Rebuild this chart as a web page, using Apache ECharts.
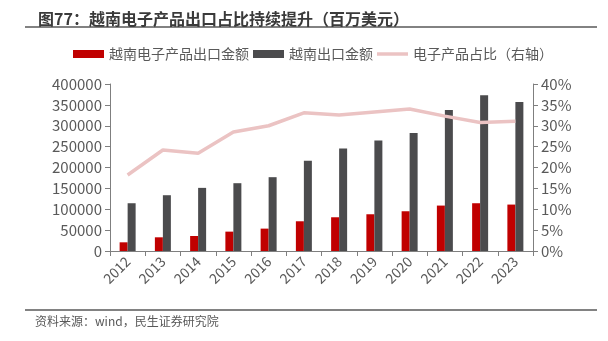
<!DOCTYPE html>
<html><head><meta charset="utf-8">
<script src="https://cdn.jsdelivr.net/npm/echarts@6/dist/echarts.min.js"></script>
<style>html,body{margin:0;padding:0;background:#fff}#c{width:608px;height:341px}</style>
</head><body><div id="c"></div>
<script>
const categories = ['2012','2013','2014','2015','2016','2017','2018','2019','2020','2021','2022','2023'];
const electronicsExport = [20800,32800,36000,46400,53600,71200,80800,88000,95200,108800,114400,111200];
const totalExport = [114400,133600,151200,162400,176800,216000,245600,264800,282400,337600,372800,356800];
const electronicsShare = [18.2,24.2,23.4,28.5,30.0,33.1,32.6,33.3,34.0,32.3,30.8,31.1];
const leftTicks = {min:0, max:400000, interval:50000};
const rightTicks = {min:0, max:40, interval:5};

const F = '"Noto Sans CJK SC", "Noto Sans", sans-serif';
const chart = echarts.init(document.getElementById('c'), null, {renderer:'canvas'});
const axisLine = {show:true, lineStyle:{color:'#7f7f7f', width:1}};
chart.setOption({
  animation:false,
  textStyle:{fontFamily:F},
  title:{text:'图77：越南电子产品出口占比持续提升（百万美元）', left:33, top:6,
    textStyle:{fontFamily:F, fontSize:16, fontWeight:'bold', color:'#3a3a3a'}},
  graphic:[
    {type:'line', shape:{x1:25,y1:27,x2:597,y2:27}, style:{stroke:'#595959', lineWidth:1.5}},
    {type:'line', shape:{x1:25,y1:310,x2:597,y2:310}, style:{stroke:'#595959', lineWidth:1.5}},
    {type:'text', left:35, top:315, style:{text:'资料来源：wind，民生证券研究院', fill:'#595959', font:'12px '+F}}
  ],
  legend:{left:68, top:42, itemWidth:31, itemHeight:8, itemGap:4, icon:'rect',
    textStyle:{fontFamily:F, fontSize:14, color:'#595959'},
    data:[{name:'越南电子产品出口金额', icon:'rect'},{name:'越南出口金额', icon:'rect'},
      {name:'电子产品占比（右轴）', icon:'path://M0,0H31V3.5H0Z'}]},
  grid:{left:110, right:75, top:84, bottom:90},
  xAxis:{type:'category', data:categories, axisLine:axisLine,
    axisTick:{show:true, alignWithLabel:false, length:5, lineStyle:{color:'#7f7f7f'}},
    axisLabel:{rotate:45, fontSize:14, color:'#595959', fontFamily:F, margin:8}},
  yAxis:[
    {type:'value', min:leftTicks.min, max:leftTicks.max, interval:leftTicks.interval,
      axisLine:axisLine, axisTick:{show:true, length:5, lineStyle:{color:'#7f7f7f'}},
      splitLine:{show:false}, axisLabel:{fontSize:15, color:'#595959', fontFamily:F, margin:8,
        formatter:function(v){return String(v);}}},
    {type:'value', min:rightTicks.min, max:rightTicks.max, interval:rightTicks.interval, position:'right',
      axisLine:axisLine, axisTick:{show:true, length:5, lineStyle:{color:'#7f7f7f'}},
      splitLine:{show:false}, axisLabel:{fontSize:15, color:'#595959', fontFamily:F, margin:8, formatter:'{value}%'}}
  ],
  series:[
    {name:'越南电子产品出口金额', type:'bar', data:electronicsExport, barWidth:8, barGap:'0%',
      itemStyle:{color:'#c00000'}},
    {name:'越南出口金额', type:'bar', data:totalExport, barWidth:8,
      itemStyle:{color:'#4b4b4d'}},
    {name:'电子产品占比（右轴）', type:'line', yAxisIndex:1, data:electronicsShare,
      symbol:'none', lineStyle:{color:'#ebc3c3', width:3.5}, itemStyle:{color:'#ebc3c3'}}
  ]
});
</script></body></html>
